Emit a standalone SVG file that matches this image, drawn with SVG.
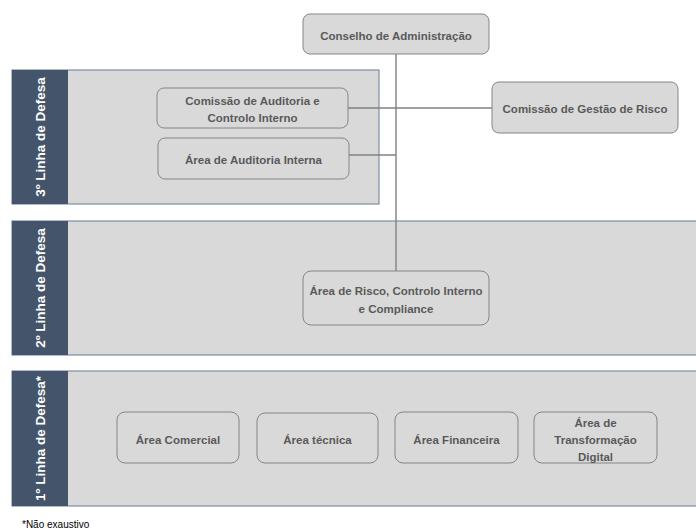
<svg xmlns="http://www.w3.org/2000/svg" width="696" height="532" viewBox="0 0 696 532">
<style>
.band{fill:#d9d9d9;stroke:#7d8ca3;stroke-width:1.2}
.strip{fill:#44546a}
.lbl{fill:#ffffff;font-family:"Liberation Sans",Arial,sans-serif;font-weight:bold;font-size:13.5px;text-anchor:middle}
.box{fill:#d9d9d9;stroke:#858585;stroke-width:1}
.t{fill:#595959;font-family:"Liberation Sans",Arial,sans-serif;font-weight:bold;font-size:11.5px;text-anchor:middle}
.con{stroke:#808080;stroke-width:1.4;fill:none}
.note{fill:#000000;font-family:"Liberation Sans",Arial,sans-serif;font-size:10px}
</style>
<rect width="696" height="532" fill="#ffffff"/>
<g id="band3">
<rect class="band" x="12" y="70" width="367" height="134"/>
<rect class="strip" x="12" y="70" width="56" height="134"/>
<text class="lbl" transform="translate(45,137) rotate(-90)">3º Linha de Defesa</text>
</g>
<g id="band2">
<rect class="band" x="12" y="221" width="690" height="134"/>
<rect class="strip" x="12" y="221" width="56" height="134"/>
<text class="lbl" transform="translate(45,288) rotate(-90)">2º Linha  de Defesa</text>
</g>
<g id="band1">
<rect class="band" x="12" y="371" width="690" height="135"/>
<rect class="strip" x="12" y="371" width="56" height="135"/>
<text class="lbl" transform="translate(45,438.5) rotate(-90)">1º Linha de Defesa*</text>
</g>
<g id="connectors">
<line class="con" x1="396" y1="54" x2="396" y2="271"/>
<line class="con" x1="348" y1="108" x2="492" y2="108"/>
<line class="con" x1="349" y1="155" x2="396" y2="155"/>
</g>
<g id="conselho">
<rect class="box" x="303" y="14" width="186" height="40" rx="7"/>
<text class="t" x="396" y="40">Conselho de Administração</text>
</g>
<g id="comissao-auditoria">
<rect class="box" x="157" y="88" width="191" height="40" rx="7"/>
<text class="t" x="252.5" y="105">Comissão de Auditoria e</text>
<text class="t" x="252.5" y="122">Controlo Interno</text>
</g>
<g id="auditoria-interna">
<rect class="box" x="158" y="138" width="191" height="41" rx="7"/>
<text class="t" x="253.5" y="164">Área de Auditoria Interna</text>
</g>
<g id="gestao-risco">
<rect class="box" x="492" y="82" width="186" height="51" rx="7"/>
<text class="t" x="585" y="113">Comissão de Gestão de Risco</text>
</g>
<g id="area-risco">
<rect class="box" x="303" y="271" width="186" height="54" rx="8"/>
<text class="t" x="396" y="295">Área de Risco, Controlo Interno</text>
<text class="t" x="396" y="313">e Compliance</text>
</g>
<g id="area-comercial">
<rect class="box" x="117" y="412" width="122" height="51" rx="8"/>
<text class="t" x="178" y="444">Área Comercial</text>
</g>
<g id="area-tecnica">
<rect class="box" x="257" y="413" width="121" height="50" rx="8"/>
<text class="t" x="317.5" y="444">Área técnica</text>
</g>
<g id="area-financeira">
<rect class="box" x="395" y="412" width="123" height="51" rx="8"/>
<text class="t" x="456.5" y="444">Área Financeira</text>
</g>
<g id="area-transformacao">
<rect class="box" x="534" y="412" width="123" height="51" rx="8"/>
<text class="t" x="595.5" y="427">Área de</text>
<text class="t" x="595.5" y="444">Transformação</text>
<text class="t" x="595.5" y="461">Digital</text>
</g>
<text class="note" x="22" y="528">*Não exaustivo</text>
</svg>
